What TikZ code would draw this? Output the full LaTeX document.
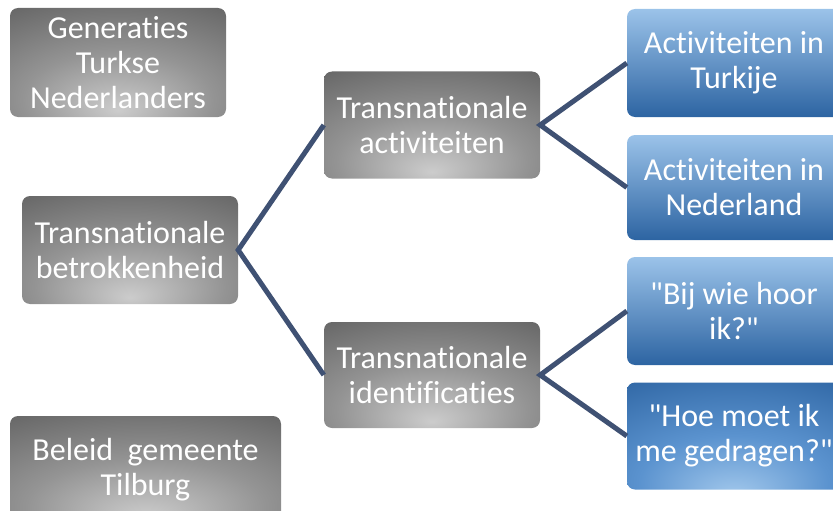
\documentclass[tikz,border=0pt]{standalone}
\usepackage{fontspec}
\setmainfont{Carlito}[Ligatures={NoCommon,NoDiscretionary}]
\definecolor{bluelight}{HTML}{A2C8EC}
\definecolor{bluemid}{HTML}{5B93CF}
\definecolor{bluedark}{HTML}{2D64A2}
\definecolor{linkcol}{HTML}{3F5173}
\pgfdeclareradialshading{grayglow}{\pgfpoint{0bp}{-22bp}}{color(0bp)=(black!20); color(22bp)=(black!42); color(48bp)=(black!62); color(100bp)=(black!62)}
\pgfdeclareradialshading{blueglow}{\pgfpoint{0bp}{-28bp}}{color(0bp)=(bluelight); color(22bp)=(bluemid); color(50bp)=(bluedark); color(100bp)=(bluedark)}
\tikzset{
  box/.style={rounded corners=8pt, text=white, align=center, inner sep=0pt,
    font=\fontsize{32}{35}\selectfont},
  graybox/.style={box, shading=grayglow},
  bluebox/.style={box, top color=bluelight!90!bluemid, bottom color=bluedark,
    minimum width=214pt},
  link/.style={draw=linkcol, line width=5pt}
}
\begin{document}
\begin{tikzpicture}[x=1pt,y=-1pt]
\useasboundingbox (0,0) rectangle (833,511);
% left column
\node[graybox, minimum width=216pt, minimum height=109pt] (gen) at (118,62.5) {Generaties\\Turkse\\Nederlanders};
\node[graybox, minimum width=216pt, minimum height=108pt] (betr) at (130,250) {Transnationale\\betrokkenheid};
\node[graybox, minimum width=271pt, minimum height=108pt] (beleid) at (145.5,470) {Beleid~~gemeente\\Tilburg};
% middle column
\node[graybox, minimum width=216pt, minimum height=107pt] (act) at (432,125) {Transnationale\\activiteiten};
\node[graybox, minimum width=216pt, minimum height=106pt] (ident) at (432,375) {Transnationale\\identificaties};
% right column
\node[bluebox, minimum height=108pt] (turk) at (734,63) {Activiteiten in\\Turkije};
\node[bluebox, minimum height=105pt] (ned) at (734,187.5) {Activiteiten in\\Nederland};
\node[bluebox, minimum height=108pt] (bij) at (734,311) {\textquotedbl Bij wie hoor\\ik?\textquotedbl};
\node[box, shading=blueglow, minimum width=214pt, minimum height=107pt] (hoe) at (734,436) {\textquotedbl Hoe moet ik\\me gedragen?\textquotedbl};
% connectors
\draw[link] (act.west) -- (betr.east) -- (ident.west);
\draw[link] (turk.west) -- (act.east) -- (ned.west);
\draw[link] (bij.west) -- (ident.east) -- (hoe.west);
\end{tikzpicture}
\end{document}
